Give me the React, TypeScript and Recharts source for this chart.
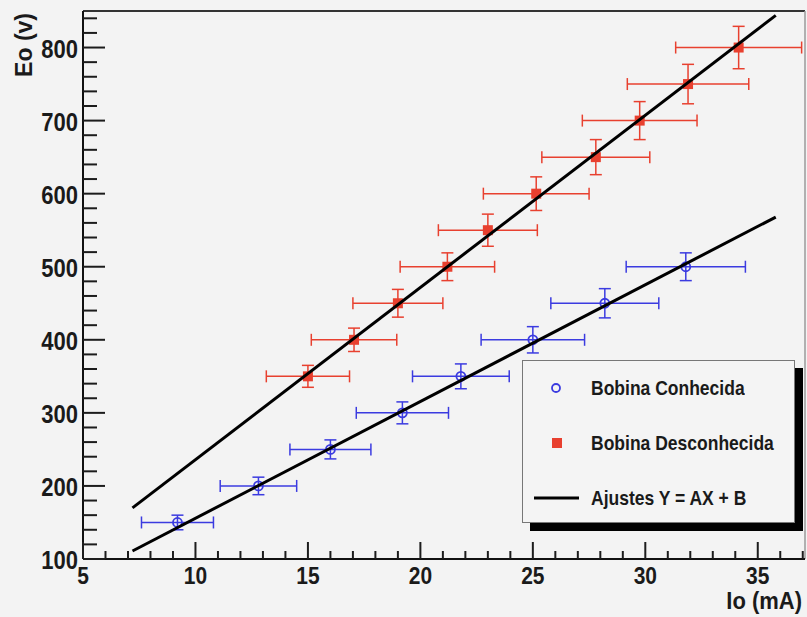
import { ComposedChart, Scatter, ErrorBar, XAxis, YAxis, ReferenceLine } from 'recharts';

// Bobina Conhecida (blue, open circles)
const knownIo = [9.2, 12.8, 16.0, 19.2, 21.8, 25.0, 28.2, 31.8];
const knownEo = [150, 200, 250, 300, 350, 400, 450, 500];
const knownIoErr = [1.6, 1.7, 1.8, 2.05, 2.15, 2.3, 2.4, 2.65];
const knownEoErr = [10, 12, 13, 15, 17, 18, 20, 19];

// Bobina Desconhecida (red, squares)
const unknownIo = [15.0, 17.05, 19.0, 21.2, 23.0, 25.15, 27.8, 29.75, 31.9, 34.15];
const unknownEo = [350, 400, 450, 500, 550, 600, 650, 700, 750, 800];
const unknownIoErr = [1.85, 1.9, 2.0, 2.1, 2.2, 2.35, 2.4, 2.55, 2.7, 2.8];
const unknownEoErr = [15, 16, 19, 19, 22, 23, 24, 26, 27, 29];

// fits Y = AX + B (end points)
const fitIo = [7.2, 35.8];
const knownFitEo = [111, 568];
const unknownFitEo = [170, 844];

const xMajor = [5, 10, 15, 20, 25, 30, 35];
const yMajor = [100, 200, 300, 400, 500, 600, 700, 800];
const xTicks = Array.from({ length: 33 }, (_, i) => 5 + i);
const yTicks = Array.from({ length: 38 }, (_, i) => 100 + i * 20);

const knownData = knownIo.map((x, i) => ({ x, y: knownEo[i], ex: knownIoErr[i], ey: knownEoErr[i] }));
const unknownData = unknownIo.map((x, i) => ({ x, y: unknownEo[i], ex: unknownIoErr[i], ey: unknownEoErr[i] }));
const knownFit = fitIo.map((x, i) => ({ x, y: knownFitEo[i] }));
const unknownFit = fitIo.map((x, i) => ({ x, y: unknownFitEo[i] }));

const FONT = '"Liberation Sans", Arial, sans-serif';
const BLUE = '#3b3be0';
const RED = '#e8402f';

const YTick = (props: any) => {
  const { x, y, payload } = props;
  const major = yMajor.includes(payload.value);
  return (
    <g>
      <line x1={x} y1={y} x2={x + (major ? 22 : 14)} y2={y} stroke="#1c1c1c" strokeWidth={2} />
      {major && (
        <text
          transform={`translate(${x - 5},${y + 10}) scale(1,1.15)`}
          textAnchor="end"
          fontFamily={FONT}
          fontWeight="bold"
          fontSize={22}
          fill="#1a1a1a"
        >
          {payload.value}
        </text>
      )}
    </g>
  );
};

const XTick = (props: any) => {
  const { x, y, payload } = props;
  const major = xMajor.includes(payload.value);
  return (
    <g>
      <line x1={x} y1={y} x2={x} y2={y - (major ? 17 : 8)} stroke="#1c1c1c" strokeWidth={2} />
      {major && (
        <text
          transform={`translate(${x},${y + 25}) scale(1,1.1)`}
          textAnchor="middle"
          fontFamily={FONT}
          fontWeight="bold"
          fontSize={21}
          fill="#1a1a1a"
        >
          {payload.value}
        </text>
      )}
    </g>
  );
};

const OpenCircle = (props: any) => (
  <circle cx={props.cx} cy={props.cy} r={4.5} fill="none" stroke={BLUE} strokeWidth={1.8} />
);

const RedSquare = (props: any) => (
  <rect x={props.cx - 5} y={props.cy - 5} width={10} height={10} fill={RED} />
);

const NoDot = () => <g />;

const legendText: React.CSSProperties = {
  position: 'absolute',
  left: 68,
  fontFamily: FONT,
  fontWeight: 'bold',
  fontSize: 17.5,
  color: '#1a1a1a',
  lineHeight: '20px',
  transform: 'scaleY(1.2)',
  transformOrigin: 'left center',
  whiteSpace: 'nowrap',
};

export default function App() {
  return (
    <div style={{ position: 'absolute', left: 0, top: 0, width: 807, height: 617, background: '#f3f3f3' }}>
      <ComposedChart width={807} height={617} margin={{ top: 11, right: 2, left: 8, bottom: 0 }}>
        <XAxis
          type="number"
          dataKey="x"
          domain={[5, 37.1]}
          ticks={xTicks}
          interval={0}
          tickSize={0}
          tickMargin={0}
          tickLine={false}
          tick={<XTick />}
          height={58}
          axisLine={{ stroke: '#111', strokeWidth: 2 }}
        />
        <YAxis
          type="number"
          dataKey="y"
          domain={[100, 850]}
          ticks={yTicks}
          interval={0}
          tickSize={0}
          tickMargin={0}
          tickLine={false}
          tick={<YTick />}
          width={75}
          axisLine={{ stroke: '#111', strokeWidth: 2 }}
        />
        <ReferenceLine y={850} stroke="#333" strokeWidth={2} />
        <ReferenceLine x={37.1} stroke="#9a9a9a" strokeWidth={1.5} />

        <Scatter data={unknownData} shape={<RedSquare />} isAnimationActive={false}>
          <ErrorBar dataKey="ex" direction="x" width={6} stroke={RED} strokeWidth={1.5} />
          <ErrorBar dataKey="ey" direction="y" width={6} stroke={RED} strokeWidth={1.5} />
        </Scatter>
        <Scatter data={knownData} shape={<OpenCircle />} isAnimationActive={false}>
          <ErrorBar dataKey="ex" direction="x" width={6} stroke={BLUE} strokeWidth={1.5} />
          <ErrorBar dataKey="ey" direction="y" width={6} stroke={BLUE} strokeWidth={1.5} />
        </Scatter>
        <Scatter data={unknownFit} shape={<NoDot />} line={{ stroke: '#000', strokeWidth: 3 }} isAnimationActive={false} />
        <Scatter data={knownFit} shape={<NoDot />} line={{ stroke: '#000', strokeWidth: 3 }} isAnimationActive={false} />

        <text
          transform="translate(32,13) rotate(-90)"
          textAnchor="end"
          fontFamily={FONT}
          fontWeight="bold"
          fontSize={23}
          fill="#1a1a1a"
        >
          Eo (v)
        </text>
        <text
          transform="translate(802,609) scale(1,1.08)"
          textAnchor="end"
          fontFamily={FONT}
          fontWeight="bold"
          fontSize={22}
          fill="#1a1a1a"
        >
          Io (mA)
        </text>
      </ComposedChart>

      <div
        style={{
          position: 'absolute',
          left: 522,
          top: 360,
          width: 273,
          height: 163,
          boxSizing: 'border-box',
          border: '1px solid #777',
          background: '#f4f4f4',
          boxShadow: '8px 8px 0 #000',
        }}
      >
        <svg style={{ position: 'absolute', left: 0, top: 0 }} width={273} height={163}>
          <circle cx={33} cy={27} r={4} fill="none" stroke={BLUE} strokeWidth={1.8} />
          <rect x={29} y={77} width={10} height={10} fill={RED} />
          <line x1={11} y1={137} x2={56} y2={137} stroke="#000" strokeWidth={3} />
        </svg>
        <div style={{ ...legendText, top: 17 }}>Bobina Conhecida</div>
        <div style={{ ...legendText, top: 72 }}>Bobina Desconhecida</div>
        <div style={{ ...legendText, top: 127 }}>Ajustes Y = AX + B</div>
      </div>
    </div>
  );
}
